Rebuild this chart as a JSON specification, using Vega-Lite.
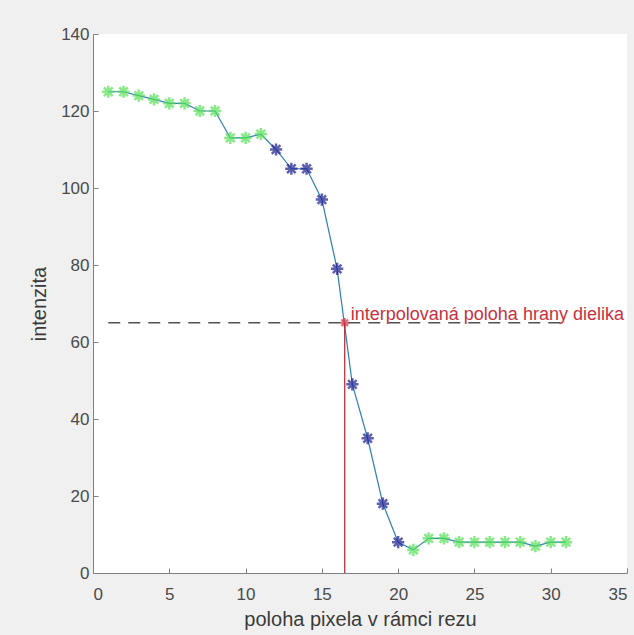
{
  "$schema": "https://vega.github.io/schema/vega-lite/v6.json",
  "width": 534,
  "height": 539,
  "padding": {"left": 93, "top": 34, "right": 7, "bottom": 62},
  "autosize": {"type": "none"},
  "background": "#f0f0f0",
  "config": {
    "view": {"fill": "white", "stroke": null},
    "font": "Liberation Sans",
    "axis": {
      "domainColor": "#808080",
      "tickColor": "#808080",
      "labelColor": "#4a4a4a",
      "titleColor": "#3a3a3a",
      "labelFont": "Liberation Sans",
      "titleFont": "Liberation Sans",
      "labelFontSize": 17,
      "titleFontSize": 20,
      "titleFontWeight": "normal",
      "grid": false
    }
  },
  "datasets": {
    "profile": [
      {"x": 1, "y": 125, "group": "g"},
      {"x": 2, "y": 125, "group": "g"},
      {"x": 3, "y": 124, "group": "g"},
      {"x": 4, "y": 123, "group": "g"},
      {"x": 5, "y": 122, "group": "g"},
      {"x": 6, "y": 122, "group": "g"},
      {"x": 7, "y": 120, "group": "g"},
      {"x": 8, "y": 120, "group": "g"},
      {"x": 9, "y": 113, "group": "g"},
      {"x": 10, "y": 113, "group": "g"},
      {"x": 11, "y": 114, "group": "g"},
      {"x": 12, "y": 110, "group": "b"},
      {"x": 13, "y": 105, "group": "b"},
      {"x": 14, "y": 105, "group": "b"},
      {"x": 15, "y": 97, "group": "b"},
      {"x": 16, "y": 79, "group": "b"},
      {"x": 17, "y": 49, "group": "b"},
      {"x": 18, "y": 35, "group": "b"},
      {"x": 19, "y": 18, "group": "b"},
      {"x": 20, "y": 8, "group": "b"},
      {"x": 21, "y": 6, "group": "g"},
      {"x": 22, "y": 9, "group": "g"},
      {"x": 23, "y": 9, "group": "g"},
      {"x": 24, "y": 8, "group": "g"},
      {"x": 25, "y": 8, "group": "g"},
      {"x": 26, "y": 8, "group": "g"},
      {"x": 27, "y": 8, "group": "g"},
      {"x": 28, "y": 8, "group": "g"},
      {"x": 29, "y": 7, "group": "g"},
      {"x": 30, "y": 8, "group": "g"},
      {"x": 31, "y": 8, "group": "g"}
    ],
    "edge": [
      {"x": 16.5, "y": 65, "x0": 1, "x1": 31, "y0": 0, "label": "interpolovaná poloha hrany dielika"}
    ]
  },
  "layer": [
    {
      "data": {"name": "edge"},
      "mark": {"type": "rule", "color": "#505050", "strokeWidth": 1.5, "strokeDash": [12, 8]},
      "encoding": {
        "x": {"field": "x0", "type": "quantitative"},
        "x2": {"field": "x1"},
        "y": {"field": "y", "type": "quantitative"}
      }
    },
    {
      "data": {"name": "profile"},
      "mark": {"type": "line", "color": "#2f7fb5", "strokeWidth": 1.2},
      "encoding": {
        "x": {
          "field": "x", "type": "quantitative",
          "scale": {"domain": [0, 35], "nice": false},
          "axis": {"values": [0, 5, 10, 15, 20, 25, 30, 35], "tickSize": -5, "title": "poloha pixela v rámci rezu", "titlePadding": 7, "labelPadding": 18}
        },
        "y": {
          "field": "y", "type": "quantitative",
          "scale": {"domain": [0, 140], "nice": false},
          "axis": {"values": [0, 20, 40, 60, 80, 100, 120, 140], "tickSize": -5, "title": "intenzita", "titlePadding": 11, "labelPadding": 9}
        }
      }
    },
    {
      "data": {"name": "profile"},
      "mark": {"type": "point", "filled": false, "strokeWidth": 2.5, "size": 150,
        "shape": "M-1,0L1,0M0,-1L0,1M-0.7,-0.7L0.7,0.7M-0.7,0.7L0.7,-0.7"},
      "encoding": {
        "x": {"field": "x", "type": "quantitative"},
        "y": {"field": "y", "type": "quantitative"},
        "color": {
          "field": "group", "type": "nominal",
          "scale": {"domain": ["g", "b"], "range": ["#55e055", "#1c1c8e"]},
          "legend": null
        }
      }
    },
    {
      "data": {"name": "edge"},
      "mark": {"type": "rule", "color": "#b0202a", "strokeWidth": 1.2},
      "encoding": {
        "x": {"field": "x", "type": "quantitative"},
        "y": {"field": "y0", "type": "quantitative"},
        "y2": {"field": "y"}
      }
    },
    {
      "data": {"name": "edge"},
      "mark": {"type": "point", "filled": false, "strokeWidth": 2, "size": 90, "color": "#d02a3a",
        "shape": "M-1,0L1,0M0,-1L0,1M-0.7,-0.7L0.7,0.7M-0.7,0.7L0.7,-0.7"},
      "encoding": {
        "x": {"field": "x", "type": "quantitative"},
        "y": {"field": "y", "type": "quantitative"}
      }
    },
    {
      "data": {"name": "edge"},
      "mark": {"type": "text", "align": "left", "baseline": "bottom", "dx": 6, "dy": 1, "color": "#c8303e", "fontSize": 18, "font": "Liberation Sans"},
      "encoding": {
        "x": {"field": "x", "type": "quantitative"},
        "y": {"field": "y", "type": "quantitative"},
        "text": {"field": "label"}
      }
    }
  ]
}
